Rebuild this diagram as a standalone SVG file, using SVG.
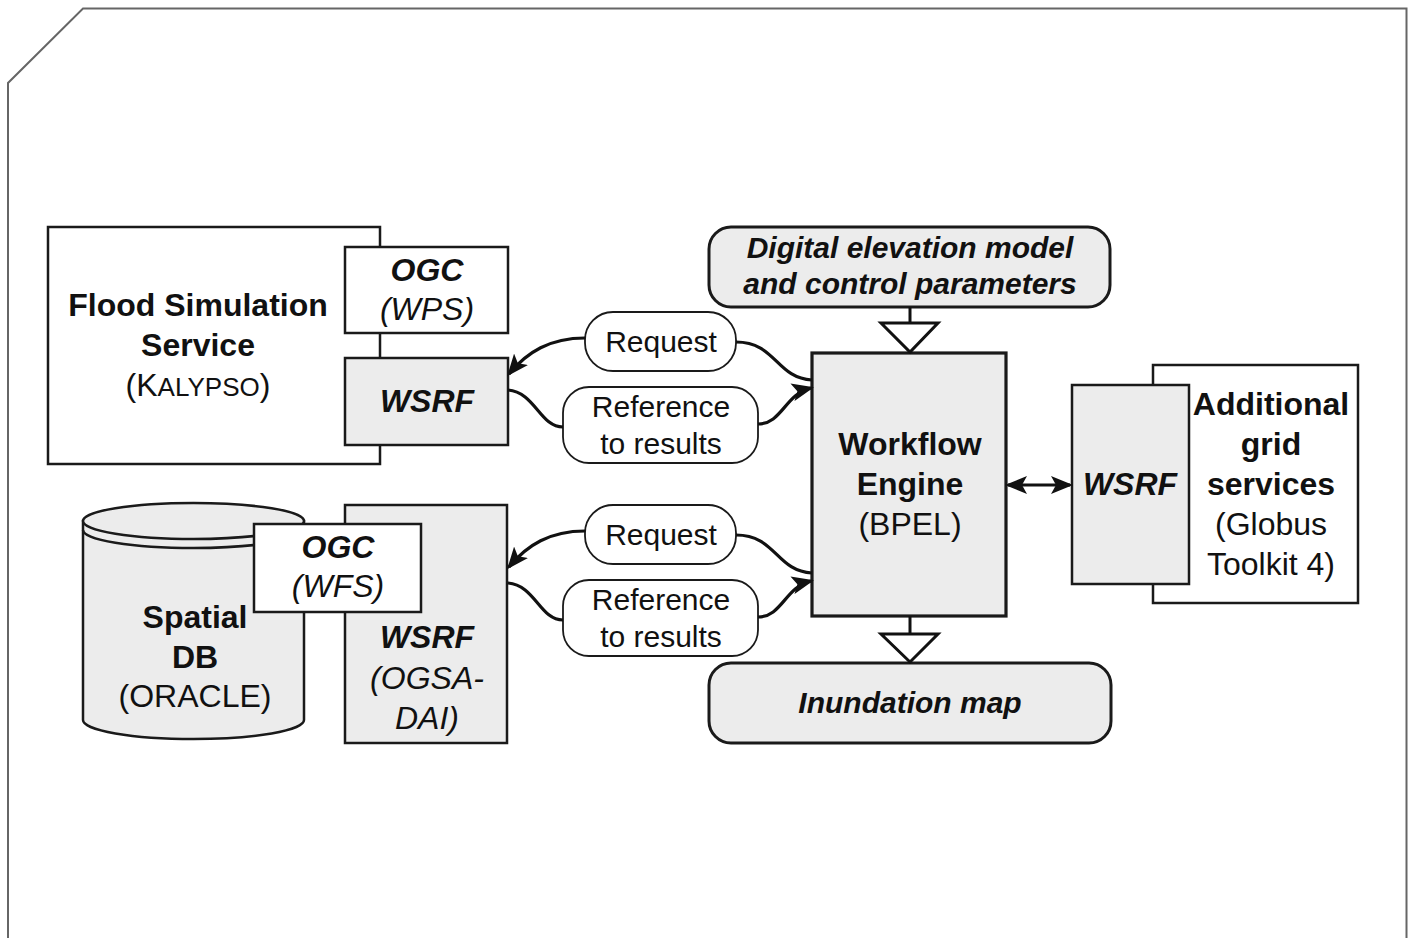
<svg xmlns="http://www.w3.org/2000/svg" width="1410" height="938" viewBox="0 0 1410 938">
<style>
.t{font-family:"Liberation Sans",Arial,sans-serif;fill:#111;text-anchor:middle}
.b{font-weight:bold}
.i{font-style:italic}
.s32{font-size:32px}
.s30{font-size:30px}
.box{stroke:#1a1a1a;stroke-width:2.5}
.gray{fill:#ececec}
.white{fill:#fff}
.pill{fill:#fff;stroke:#1a1a1a;stroke-width:1.8}
.con{fill:none;stroke:#111;stroke-width:3.2}
</style>
<defs>
<marker id="ah" markerUnits="userSpaceOnUse" markerWidth="22" markerHeight="18" refX="19" refY="9" orient="auto-start-reverse" viewBox="0 0 22 18">
<path d="M0,0 L22,9 L0,18 L5,9 Z" fill="#111"/>
</marker>
</defs>
<rect width="1410" height="938" fill="#fff"/>
<path d="M8,938 L8,83 L83,8.5 L1406.5,8.5 L1406.5,938" fill="none" stroke="#666" stroke-width="2"/>

<g id="flood">
<rect class="box white" x="48" y="227" width="332" height="237"/>
<text class="t b s32" x="198" y="316">Flood Simulation</text>
<text class="t b s32" x="198" y="356">Service</text>
<text class="t s32" x="198" y="396">(K<tspan font-size="26">ALYPSO</tspan>)</text>
</g>
<g id="ogc-wps">
<rect class="box white" x="345" y="247" width="163" height="86"/>
<text class="t b i s32" x="427" y="281">OGC</text>
<text class="t i s32" x="427" y="320">(WPS)</text>
</g>
<g id="wsrf-flood">
<rect class="box gray" x="345" y="358" width="163" height="87"/>
<text class="t b i s32" x="427" y="412">WSRF</text>
</g>

<g id="spatialdb">
<path class="box gray" d="M83,521 L83,720 A110.5,19 0 0 0 304,720 L304,521 Z"/>
<ellipse class="box gray" cx="193.5" cy="521" rx="110.5" ry="18"/>
<path class="box" fill="none" d="M83,530 A110.5,18 0 0 0 304,530"/>
<text class="t b s32" x="195" y="628">Spatial</text>
<text class="t b s32" x="195" y="668">DB</text>
<text class="t s32" x="195" y="707">(ORACLE)</text>
</g>
<g id="wsrf-db">
<rect class="box gray" x="345" y="505" width="162" height="238"/>
<text class="t b i s32" x="427" y="648">WSRF</text>
<text class="t i s32" x="427" y="689">(OGSA-</text>
<text class="t i s32" x="427" y="729">DAI)</text>
</g>
<g id="ogc-wfs">
<rect class="box white" x="254" y="524" width="167" height="88"/>
<text class="t b i s32" x="338" y="558">OGC</text>
<text class="t i s32" x="338" y="597">(WFS)</text>
</g>

<g id="dem">
<rect class="gray" x="709" y="227" width="401" height="80" rx="22" stroke="#1a1a1a" stroke-width="3"/>
<text class="t b i s30" x="910" y="258">Digital elevation model</text>
<text class="t b i s30" x="910" y="294">and control parameters</text>
</g>
<g id="workflow">
<rect class="gray" x="812" y="353" width="194" height="263" stroke="#1a1a1a" stroke-width="3.2"/>
<text class="t b s32" x="910" y="455">Workflow</text>
<text class="t b s32" x="910" y="495">Engine</text>
<text class="t s32" x="910" y="535">(BPEL)</text>
</g>
<g id="inundation">
<rect class="gray" x="709" y="663" width="402" height="80" rx="22" stroke="#1a1a1a" stroke-width="3"/>
<text class="t b i s30" x="910" y="713">Inundation map</text>
</g>
<g id="additional">
<rect class="box white" x="1153" y="365" width="205" height="238"/>
<text class="t b s32" x="1271" y="415">Additional</text>
<text class="t b s32" x="1271" y="455">grid</text>
<text class="t b s32" x="1271" y="495">services</text>
<text class="t s32" x="1271" y="535">(Globus</text>
<text class="t s32" x="1271" y="575">Toolkit 4)</text>
</g>
<g id="wsrf-add">
<rect class="box gray" x="1072" y="385" width="117" height="199"/>
<text class="t b i s32" x="1130" y="495">WSRF</text>
</g>

<g id="labels">
<rect class="pill" x="585" y="312" width="151" height="59" rx="28"/>
<text class="t s30" x="661" y="352">Request</text>
<rect class="pill" x="563" y="387" width="195" height="76" rx="26"/>
<text class="t s30" x="661" y="417">Reference</text>
<text class="t s30" x="661" y="454">to results</text>
<rect class="pill" x="585" y="505" width="151" height="59" rx="28"/>
<text class="t s30" x="661" y="545">Request</text>
<rect class="pill" x="563" y="580" width="195" height="76" rx="26"/>
<text class="t s30" x="661" y="610">Reference</text>
<text class="t s30" x="661" y="647">to results</text>
</g>

<g id="connectors">
<path class="con" d="M736,342 C776,342 776,378 812,380"/>
<path class="con" d="M585,338 C550,338 527,352 509,374" marker-end="url(#ah)"/>
<path class="con" d="M508,390 C535,392 540,427 563,427"/>
<path class="con" d="M758,424 C782,424 785,394 811,388" marker-end="url(#ah)"/>
<path class="con" d="M736,535 C776,535 776,571 812,573"/>
<path class="con" d="M585,531 C550,531 527,545 509,567" marker-end="url(#ah)"/>
<path class="con" d="M508,583 C535,585 540,620 563,620"/>
<path class="con" d="M758,617 C782,617 785,587 811,581" marker-end="url(#ah)"/>
<line class="con" x1="1008" y1="485" x2="1070" y2="485" marker-start="url(#ah)" marker-end="url(#ah)"/>
<path d="M910,307 L910,323" stroke="#111" stroke-width="3"/>
<path d="M881,323 L938,323 L910,352 Z" fill="#fff" stroke="#111" stroke-width="3"/>
<path d="M910,616 L910,634" stroke="#111" stroke-width="3"/>
<path d="M881,634 L938,634 L910,662 Z" fill="#fff" stroke="#111" stroke-width="3"/>
</g>
</svg>
